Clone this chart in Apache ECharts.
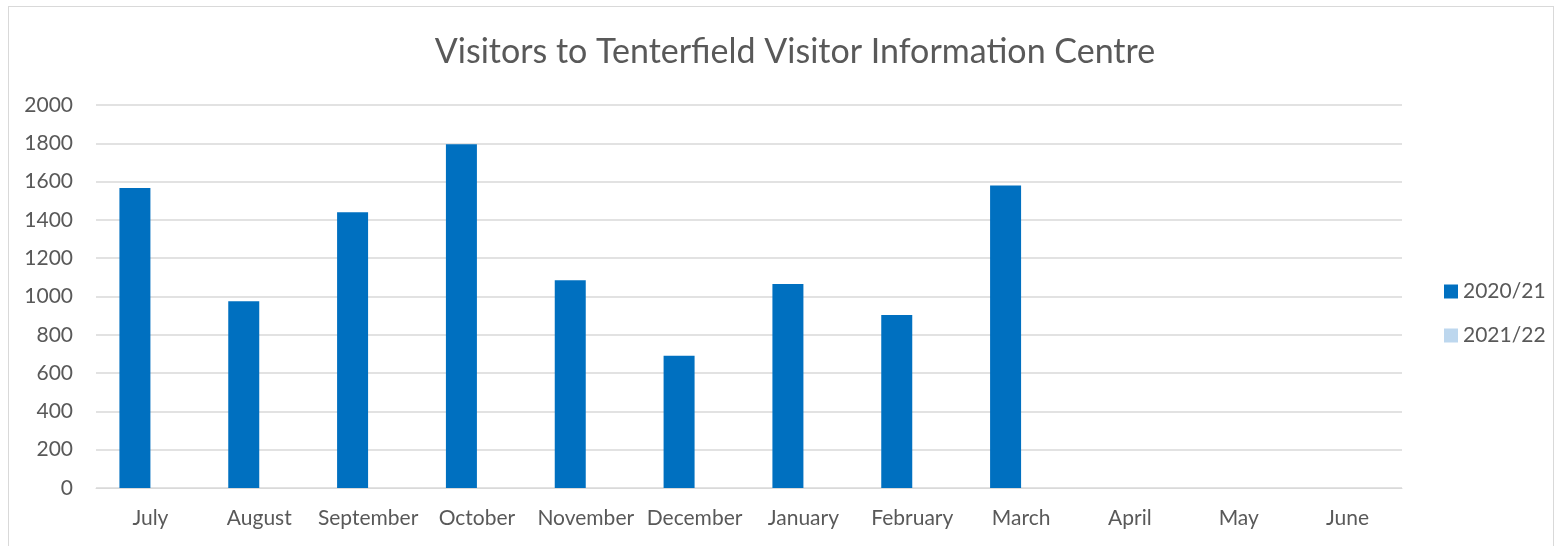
<!DOCTYPE html>
<html>
<head>
<meta charset="utf-8">
<title>Visitors to Tenterfield Visitor Information Centre</title>
<script src="https://cdn.jsdelivr.net/npm/echarts@6/dist/echarts.min.js"></script>
<style>
    html, body { margin: 0; padding: 0; background: #fff; }
    #frame { position: absolute; left: 8px; top: 6px; width: 1546px; height: 540px; border: 1px solid #d9d9d9; border-bottom: none; box-sizing: border-box; }
    #chart { position: absolute; left: 0; top: 0; width: 1563px; height: 546px; }
</style>
</head>
<body>
<div id="frame"></div>
<div id="chart"></div>
<script>
// 月份（财年 7月-6月）
var months = ['July', 'August', 'September', 'October', 'November', 'December',
    'January', 'February', 'March', 'April', 'May', 'June'];
// 2020/21 访客数
var visitors2021 = [1567, 975, 1440, 1795, 1085, 690, 1065, 903, 1580, null, null, null];
// 2021/22 暂无数据
var visitors2122 = [null, null, null, null, null, null, null, null, null, null, null, null];
var seriesNames = ['2020/21', '2021/22'];

var myChart = echarts.init(document.getElementById('chart'));
var txtColor = '#595959';
var font = 'Lato, "Open Sans", sans-serif';

var option = {
    animation: false,
    textStyle: { fontFamily: font },
    title: {
        text: 'Visitors to Tenterfield Visitor Information Centre',
        left: 790,
        textAlign: 'center',
        top: 30,
        textStyle: { color: txtColor, fontSize: 34, fontWeight: 'normal', fontFamily: font }
    },
    legend: {
        orient: 'vertical',
        left: 1439,
        top: 276,
        itemWidth: 14,
        itemHeight: 14,
        itemGap: 23,
        icon: 'rect',
        data: seriesNames,
        textStyle: { color: txtColor, fontSize: 21, fontFamily: font }
    },
    grid: { left: 96, right: 161, top: 105, bottom: 58 },
    xAxis: {
        type: 'category',
        data: months,
        axisLine: { lineStyle: { color: '#d9d9d9' } },
        axisTick: { show: false },
        axisLabel: { color: txtColor, fontSize: 21, margin: 20, interval: 0 }
    },
    yAxis: {
        type: 'value',
        min: 0,
        max: 2000,
        interval: 200,
        axisLine: { show: false },
        axisTick: { show: false },
        axisLabel: {
            color: txtColor, fontSize: 21, margin: 23,
            formatter: function (v) { return String(v); }
        },
        splitLine: { lineStyle: { color: '#d9d9d9', width: 1.5 } }
    },
    series: [{
        name: seriesNames[0],
        type: 'bar',
        barWidth: 31,
        barGap: '0%',
        data: visitors2021,
        itemStyle: { color: '#0070c0' }
    }, {
        name: seriesNames[1],
        type: 'bar',
        barWidth: 31,
        data: visitors2122,
        itemStyle: { color: '#bdd7ee' }
    }]
};
myChart.setOption(option);
</script>
</body>
</html>
